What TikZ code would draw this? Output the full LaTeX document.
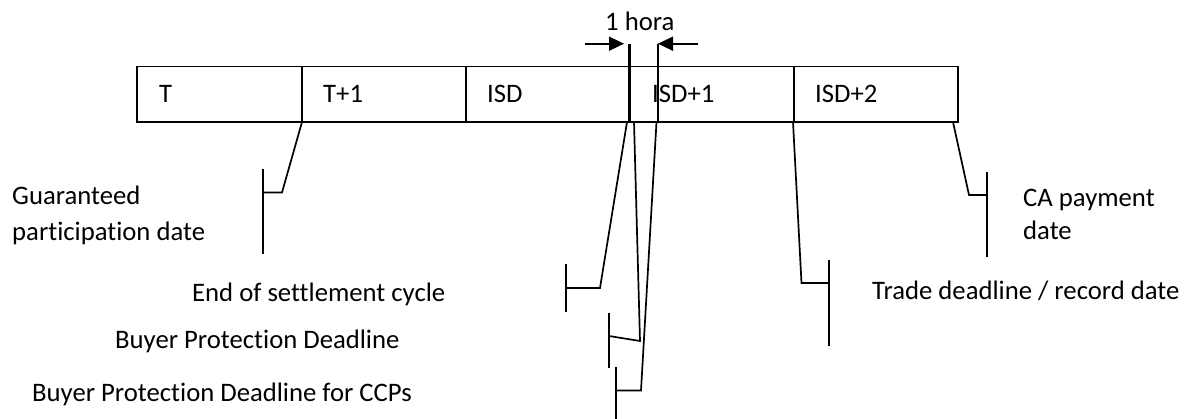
\documentclass[tikz,border=0pt]{standalone}
\usepackage{fontspec}
\setmainfont[Ligatures=NoCommon]{Carlito}
\usetikzlibrary{arrows.meta}
\begin{document}
\begin{tikzpicture}[x=1pt,y=-1pt,
  ln/.style={line width=1.7pt, line join=miter},
  thick marker/.style={line width=2.4pt},
  lbl/.style={anchor=base west, inner sep=0pt, font=\fontsize{26.7}{32}\selectfont},
  harrow/.style={line width=1.7pt, -{Triangle[length=15pt,width=14pt]}}]
\useasboundingbox (0,0) rectangle (1189,419);
% timeline box
\coordinate (boxNW) at (137,66.5);
\coordinate (boxSE) at (958,122);
\draw[ln] (boxNW) rectangle (boxSE);
\coordinate (d1t) at (302,66.5); \coordinate (d1b) at (302,122);
\coordinate (d2t) at (466,66.5); \coordinate (d2b) at (466,122);
\coordinate (d4t) at (794,66.5); \coordinate (d4b) at (794,122);
\draw[ln] (d1t) -- (d1b);
\draw[ln] (d2t) -- (d2b);
\draw[ln] (d4t) -- (d4b);
% 1 hora markers
\coordinate (m1t) at (629.5,44); \coordinate (m1b) at (629.5,122);
\coordinate (m2t) at (658,44); \coordinate (m2b) at (658,122);
\draw[thick marker] (m1t) -- (m1b);
\draw[ln] (m2t) -- (m2b);
\coordinate (a1s) at (585,43.7); \coordinate (a1e) at (624,43.7);
\coordinate (a2s) at (698,43.7); \coordinate (a2e) at (658,43.7);
\draw[harrow] (a1s) -- (a1e);
\draw[harrow] (a2s) -- (a2e);
\node[lbl] (hora) at (605,31) {1 hora};
% cell labels
\node[lbl] (cT) at (159,103) {T};
\node[lbl] (cT1) at (323,103) {T+1};
\node[lbl] (cISD) at (487,103) {ISD};
\node[lbl] (cISD1) at (652,103) {ISD+1};
\node[lbl] (cISD2) at (815,103) {ISD+2};
% callout 1: guaranteed participation date
\coordinate (g0) at (302,122); \coordinate (g1) at (282,192.5); \coordinate (g2) at (263,192.5);
\coordinate (g3) at (263,169); \coordinate (g4) at (263,254);
\draw[ln] (g0) -- (g1) -- (g2);
\draw[ln] (g3) -- (g4);
\node[lbl] (gpd1) at (12,205) {Guaranteed};
\node[lbl] (gpd2) at (12,241) {participation date};
% callout 2: end of settlement cycle
\coordinate (e0) at (627,122); \coordinate (e1) at (600,288); \coordinate (e2) at (566,288);
\coordinate (e3) at (566,264); \coordinate (e4) at (566,312);
\draw[ln] (e0) -- (e1) -- (e2);
\draw[ln] (e3) -- (e4);
\node[lbl] (esc) at (192,302) {End of settlement cycle};
% callout 3: buyer protection deadline
\coordinate (b0) at (634,122); \coordinate (b1) at (640,341); \coordinate (b2) at (609,336);
\coordinate (b3) at (609,313); \coordinate (b4) at (609,368);
\draw[ln] (b0) -- (b1) -- (b2);
\draw[ln] (b3) -- (b4);
\node[lbl] (bpd) at (115,349) {Buyer Protection Deadline};
% callout 4: buyer protection deadline for CCPs
\coordinate (c0) at (656.5,122); \coordinate (c1) at (641,390.5); \coordinate (c2) at (616,390.5);
\coordinate (c3) at (616,367); \coordinate (c4) at (616,419);
\draw[ln] (c0) -- (c1) -- (c2);
\draw[ln] (c3) -- (c4);
\node[lbl] (bpdc) at (32,402) {Buyer Protection Deadline for CCPs};
% callout 5: trade deadline / record date
\coordinate (t0) at (793,122); \coordinate (t1) at (801.5,283); \coordinate (t2) at (829,283);
\coordinate (t3) at (829,260); \coordinate (t4) at (829,346);
\draw[ln] (t0) -- (t1) -- (t2);
\draw[ln] (t3) -- (t4);
\node[lbl] (tdr) at (872,300) {Trade deadline / record date};
% callout 6: CA payment date
\coordinate (p0) at (953,122); \coordinate (p1) at (969,195); \coordinate (p2) at (987,195);
\coordinate (p3) at (987,172); \coordinate (p4) at (987,257);
\draw[ln] (p0) -- (p1) -- (p2);
\draw[ln] (p3) -- (p4);
\node[lbl] (cap1) at (1023,207) {CA payment};
\node[lbl] (cap2) at (1023,240) {date};
\end{tikzpicture}
\end{document}
